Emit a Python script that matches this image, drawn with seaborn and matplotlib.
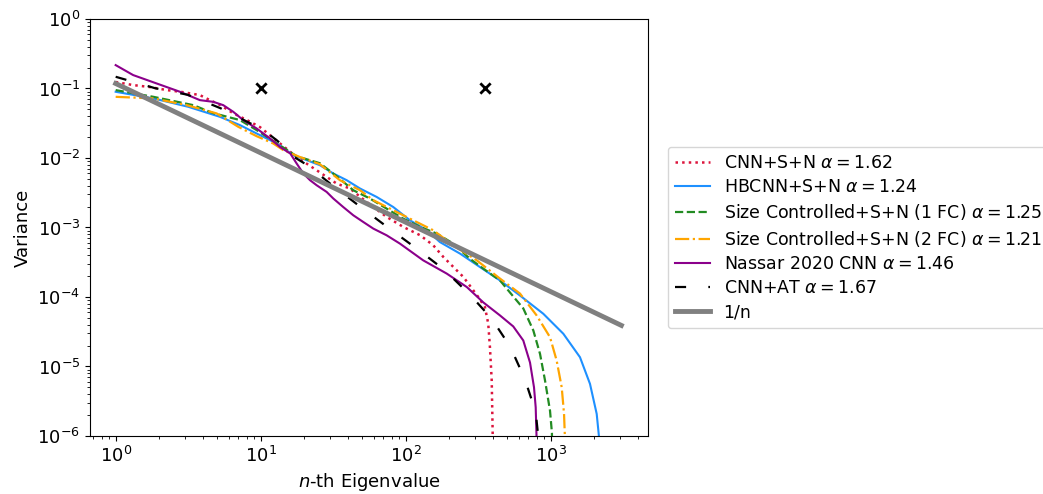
import matplotlib
matplotlib.use("Agg")
import matplotlib.pyplot as plt
import seaborn as sns
import numpy as np

# ---- data ----
red_n = [1, 1.32, 1.72, 2.26, 2.91, 3.81, 4.47, 5.28, 6.44, 8.05, 9.9, 13, 17.5, 24.3, 33.4, 41.3,
         53.8, 73.9, 96.2, 126, 155, 182, 250, 317, 352, 371, 381, 392, 398, 400]
red_y = [0.124, 0.112, 0.105, 0.0948, 0.0887, 0.0803, 0.068, 0.0576, 0.0442, 0.0351, 0.0278, 0.0175,
         0.0105, 0.00667, 0.00429, 0.00363, 0.00233, 0.00142, 0.00102, 7.72e-4, 5.54e-4, 3.76e-4,
         1.94e-4, 9.97e-5, 7.15e-5, 4.12e-5, 1.90e-5, 6.28e-6, 1.07e-6, 1e-7]

blue_n = [1, 1.82, 3.17, 5.24, 7.20, 9.89, 12.9, 16.8, 20.8, 25.6, 31.7, 39.2, 48.4, 63.1, 82.1, 107,
          140, 172, 237, 325, 447, 614, 889, 1222, 1592, 1866, 2076, 2150, 2160]
blue_y = [0.0897, 0.072, 0.0545, 0.0391, 0.0297, 0.0213, 0.0162, 0.0110, 0.00929, 0.00788, 0.00598,
          0.00479, 0.00364, 0.00275, 0.00197, 0.00127, 9.12e-4, 6.18e-4, 4.21e-4, 2.70e-4, 1.73e-4,
          1.05e-4, 5.74e-5, 2.96e-5, 1.36e-5, 5.63e-6, 2.08e-6, 1.0e-6, 1e-7]

green_n = [1, 1.82, 3.43, 4.71, 7.20, 9.38, 12.9, 17.7, 25.6, 33.4, 43.5, 56.7, 73.9, 96.2, 126, 164,
           213, 277, 343, 447, 524, 647, 759, 844, 914, 989, 1020, 1024]
green_y = [0.0948, 0.0759, 0.0576, 0.0442, 0.0351, 0.0252, 0.0163, 0.0106, 0.00841, 0.00547, 0.00344,
           0.00261, 0.00187, 0.00134, 0.00102, 8.16e-4, 5.86e-4, 3.56e-4, 2.56e-4, 1.73e-4, 1.16e-4,
           6.85e-5, 3.30e-5, 1.52e-5, 6.28e-6, 2.32e-6, 1.1e-6, 1e-7]

orange_n = [1, 1.82, 3.09, 4.97, 7.01, 9.38, 12.2, 14.3, 18.7, 25.6, 35.2, 48.4, 59.8, 82.1, 107, 155,
            213, 309, 447, 614, 800, 989, 1099, 1191, 1236, 1252, 1256]
orange_y = [0.0759, 0.072, 0.0576, 0.0438, 0.0281, 0.0206, 0.0162, 0.0130, 0.0103, 0.00814, 0.00479,
            0.00344, 0.00247, 0.00177, 0.00134, 9.12e-4, 5.54e-4, 3.37e-4, 1.84e-4, 1.12e-4, 5.43e-5,
            2.64e-5, 1.22e-5, 5.03e-6, 2.08e-6, 1e-6, 1e-7]

purple_n = [1, 1.32, 1.92, 2.78, 3.81, 4.71, 5.52, 6.47, 7.59, 9.38, 11.6, 13.6, 16.0, 17.7, 19.7, 21.9,
            24.3, 28.5, 31.7, 37.1, 43.5, 51.0, 59.8, 73.9, 91.3, 132, 192, 264, 343, 447, 552, 647,
            720, 767, 788, 798, 800]
purple_y = [0.217, 0.156, 0.118, 0.0896, 0.068, 0.0643, 0.0576, 0.0462, 0.035, 0.0266, 0.0191, 0.0144,
            0.0116, 0.00834, 0.00598, 0.00479, 0.00406, 0.00325, 0.00261, 0.00197, 0.0015, 0.0012,
            9.64e-4, 7.72e-4, 5.86e-4, 3.37e-4, 2.17e-4, 1.39e-4, 8.36e-5, 5.43e-5, 3.77e-5, 2.37e-5,
            1.14e-5, 5.03e-6, 2.59e-6, 1.05e-6, 1e-7]

black_n = [1, 1.87, 3.15, 5.32, 8.57, 10.7, 12.9, 14.7, 16.2, 21.0, 30.1, 49.7, 75.9, 119, 184, 281,
           392, 528, 665, 788, 820, 825]
black_y = [0.1475, 0.101, 0.0811, 0.0517, 0.0312, 0.0243, 0.018, 0.0143, 0.011, 0.00788, 0.00429,
           0.00192, 9.9e-4, 4.97e-4, 2.48e-4, 1.05e-4, 4.87e-5, 1.9e-5, 6.5e-6, 2.2e-6, 1.0e-6, 1e-7]

ref_n = [1, 3072]
ref_y = [0.118, 3.9e-5]

mark_n = [10, 350]
mark_y = [0.1, 0.1]

labels = [r"CNN+S+N $\alpha=1.62$",
          r"HBCNN+S+N $\alpha=1.24$",
          r"Size Controlled+S+N (1 FC) $\alpha=1.25$",
          r"Size Controlled+S+N (2 FC) $\alpha=1.21$",
          r"Nassar 2020 CNN $\alpha=1.46$",
          r"CNN+AT $\alpha=1.67$",
          "1/n"]

FS = 13
plt.rcParams.update({"font.size": FS, "font.family": ["DejaVu Sans"], "mathtext.fontset": "dejavusans"})

fig = plt.figure(figsize=(10.43, 4.94), dpi=100)
ax = fig.add_axes([90 / 1043, 1 - 436 / 494, (648 - 90) / 1043, (436 - 19) / 494])

series = [
    (red_n, red_y, "crimson", (0, (1, 1.65)), 1.8),
    (blue_n, blue_y, "dodgerblue", "-", 1.5),
    (green_n, green_y, "forestgreen", (0, (3.7, 1.6)), 1.6),
    (orange_n, orange_y, "orange", (0, (6.4, 1.6, 1, 1.6)), 1.6),
    (purple_n, purple_y, "darkmagenta", "-", 1.5),
    (black_n, black_y, "black", (0, (5, 10)), 1.6),
]
for (xs, ys, c, ls, lw), lab in zip(series, labels[:6]):
    sns.lineplot(x=xs, y=ys, ax=ax, color=c, linestyle=ls, linewidth=lw, label=lab,
                 estimator=None, sort=False)
sns.lineplot(x=ref_n, y=ref_y, ax=ax, color="gray", linewidth=3.5, label=labels[6],
             estimator=None, sort=False)
sns.scatterplot(x=mark_n, y=mark_y, ax=ax, marker="x", s=55, color="black", linewidth=2, zorder=5)

ax.set_xscale("log")
ax.set_yscale("log")
ax.set_xlim(10 ** (-0.177), 10 ** 3.671)
ax.set_ylim(1e-6, 1)
ax.set_xlabel(r"$n$-th Eigenvalue", fontsize=FS)
ax.set_ylabel("Variance", fontsize=FS)
ax.tick_params(labelsize=FS)

handles, labs = ax.get_legend_handles_labels()
ax.legend(handles[:7], labs[:7], loc="upper left", bbox_to_anchor=(668 / 1043, 1 - 147 / 494),
          bbox_transform=fig.transFigure, borderaxespad=0, fontsize=12.5, labelspacing=0.36)

fig.savefig("out.png", dpi=100)
